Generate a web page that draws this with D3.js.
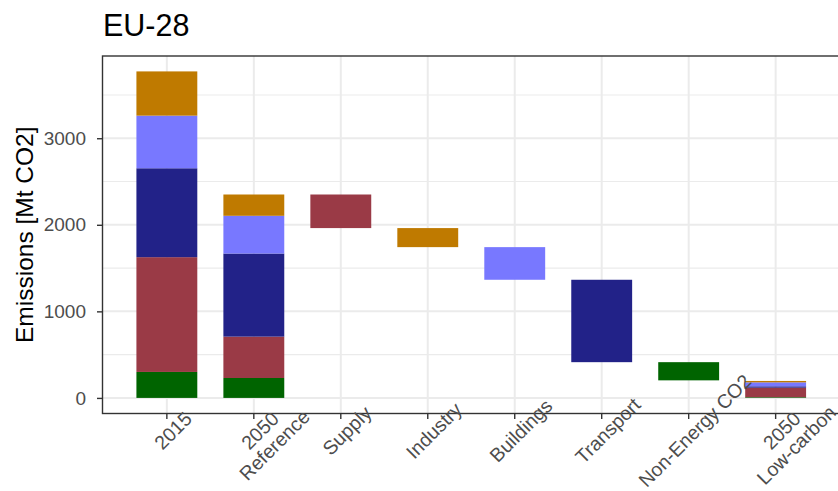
<!DOCTYPE html>
<html>
<head>
<meta charset="utf-8">
<script src="https://cdn.jsdelivr.net/npm/d3@7"></script>
<style>
  body { margin: 0; background: #fff; }
  svg { display: block; font-family: "Liberation Sans", Arial, sans-serif; }
</style>
</head>
<body>
<svg id="chart" width="838" height="491"></svg>
<script>
// Data
var categories = ["2015", "2050\nReference", "Supply", "Industry", "Buildings", "Transport", "Non-Energy CO2", "2050\nLow-carbon"];
var sectors = ["Non-Energy CO2", "Supply", "Transport", "Buildings", "Industry"]; // stack order, bottom to top
var sectorColors = ["#006400", "#9a3a46", "#222288", "#7878ff", "#bf7a00"];
var emis2015 = [300, 1326, 1027, 608, 511];
var emis2050Ref = [230, 478, 960, 436, 246];
var emis2050Low = [8, 110, 16, 46, 16];
var reductionSectors = ["Supply", "Industry", "Buildings", "Transport", "Non-Energy CO2"];
var reductions = [388, 220, 377, 952, 210];
var yTicks = [0, 1000, 2000, 3000];
var yMinor = [500, 1500, 2500, 3500];

var svg = d3.select("#chart");
var panel = {left: 102.5, right: 840, top: 56, bottom: 413.5};

// Scales
var x = d3.scaleBand()
  .domain(categories)
  .range([panel.left, panel.right])
  .paddingInner(0.3)
  .paddingOuter(0.39);
var y = d3.scaleLinear()
  .domain([-180, 3950])
  .range([panel.bottom, panel.top]);
var color = d3.scaleOrdinal().domain(sectors).range(sectorColors);

// Build rectangles: stacked bars + waterfall steps
var rects = [];
function stackBar(cat, values) {
  var base = 0;
  sectors.forEach(function (s, i) {
    rects.push({cat: cat, sector: s, y0: base, y1: base + values[i]});
    base += values[i];
  });
  return base;
}
stackBar(categories[0], emis2015);
var level = stackBar(categories[1], emis2050Ref);
reductionSectors.forEach(function (s, i) {
  rects.push({cat: s, sector: s, y0: level - reductions[i], y1: level});
  level -= reductions[i];
});
stackBar(categories[7], emis2050Low);

// Grid
var grid = svg.append("g").classed("grid", true);
grid.selectAll("line.minor").data(yMinor).enter().append("line")
  .attr("x1", panel.left).attr("x2", panel.right)
  .attr("y1", function (d) { return y(d); }).attr("y2", function (d) { return y(d); })
  .style("stroke", "#ebebeb").style("stroke-width", 1.1);
grid.selectAll("line.major").data(yTicks).enter().append("line")
  .attr("x1", panel.left).attr("x2", panel.right)
  .attr("y1", function (d) { return y(d); }).attr("y2", function (d) { return y(d); })
  .style("stroke", "#ebebeb").style("stroke-width", 2);
grid.selectAll("line.vert").data(categories).enter().append("line")
  .attr("x1", function (d) { return x(d) + x.bandwidth() / 2; })
  .attr("x2", function (d) { return x(d) + x.bandwidth() / 2; })
  .attr("y1", panel.top).attr("y2", panel.bottom)
  .style("stroke", "#ebebeb").style("stroke-width", 2);

// Bars
svg.append("g").selectAll("rect").data(rects).enter().append("rect")
  .attr("x", function (d) { return x(d.cat); })
  .attr("width", x.bandwidth())
  .attr("y", function (d) { return y(d.y1); })
  .attr("height", function (d) { return y(d.y0) - y(d.y1); })
  .style("fill", function (d) { return color(d.sector); });

// Panel border
svg.append("rect")
  .attr("x", panel.left).attr("y", panel.top)
  .attr("width", panel.right - panel.left).attr("height", panel.bottom - panel.top)
  .style("fill", "none").style("stroke", "#333333").style("stroke-width", 1.4);

// Y axis
var yAxis = svg.append("g")
  .attr("transform", "translate(" + panel.left + ",0)")
  .call(d3.axisLeft(y).tickValues(yTicks).tickSize(5.5).tickPadding(11).tickFormat(d3.format("d")));
yAxis.select(".domain").remove();
yAxis.selectAll(".tick line").style("stroke", "#333333").style("stroke-width", 1.4);
yAxis.selectAll(".tick text")
  .style("fill", "#4d4d4d")
  .style("font-size", "19px")
  .style("font-family", "Liberation Sans, Arial, sans-serif");

// X axis
var xAxis = svg.append("g")
  .attr("transform", "translate(0," + panel.bottom + ")")
  .call(d3.axisBottom(x).tickSize(5.5).tickFormat(""));
xAxis.select(".domain").remove();
xAxis.selectAll(".tick line").style("stroke", "#333333").style("stroke-width", 1.4);

var xLabels = svg.append("g").selectAll("g").data(categories).enter().append("g")
  .attr("transform", function (d) {
    return "translate(" + (x(d) + x.bandwidth() / 2) + "," + (panel.bottom + 11) + ") rotate(-45)";
  });
xLabels.each(function (d) {
  var t = d3.select(this).append("text")
    .attr("text-anchor", "middle")
    .style("fill", "#4d4d4d")
    .style("font-size", "19.5px");
  d.split("\n").forEach(function (line, i) {
    t.append("tspan").attr("x", 0).attr("y", 15.5 + i * 20.5).text(line);
  });
});

// Titles
svg.append("text")
  .attr("x", 103).attr("y", 36)
  .style("font-size", "30.5px")
  .style("fill", "#000")
  .text("EU-28");

svg.append("text")
  .attr("transform", "translate(33," + ((panel.top + panel.bottom) / 2) + ") rotate(-90)")
  .attr("text-anchor", "middle")
  .style("font-size", "24.5px")
  .style("fill", "#000")
  .text("Emissions [Mt CO2]");
</script>
</body>
</html>
